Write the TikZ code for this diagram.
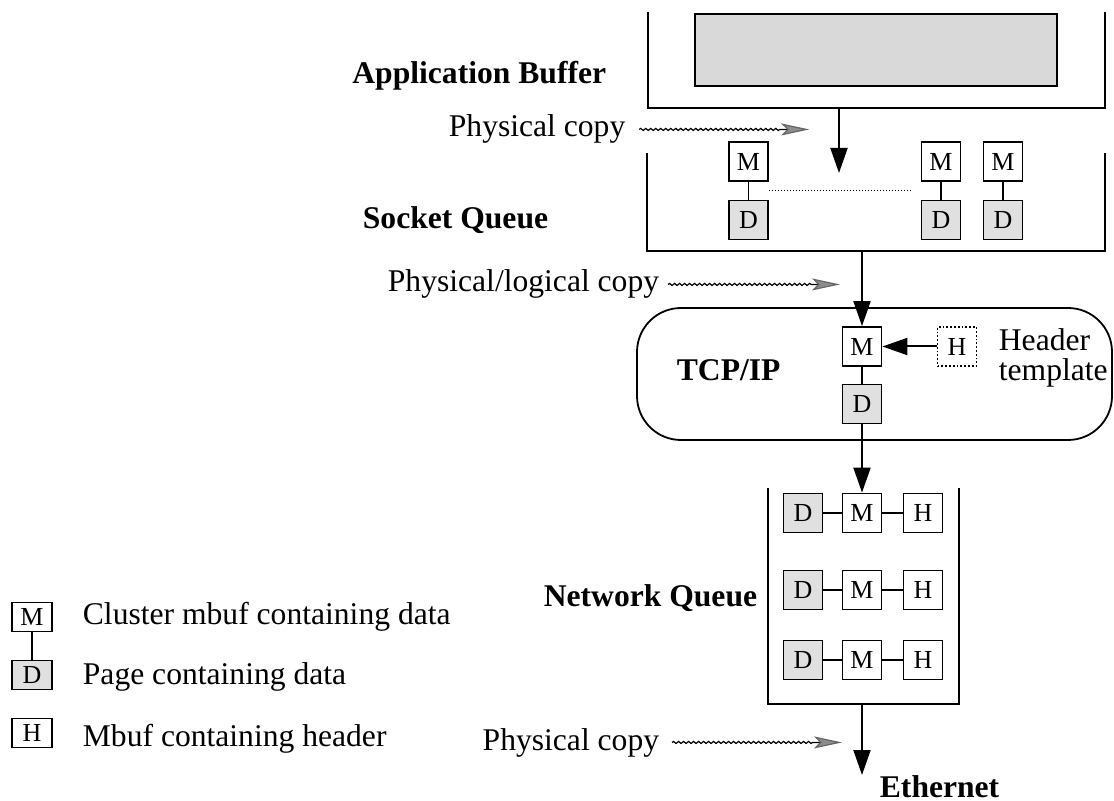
\documentclass[tikz,border=0pt]{standalone}
\usepackage{fontspec}
\setmainfont{Liberation Serif}
\usetikzlibrary{arrows.meta,decorations.pathmorphing,calc}

\begin{document}
\begin{tikzpicture}[x=0.5pt,y=-0.5pt,line width=0.9pt,
  lbl/.style={inner sep=0pt,font=\fontsize{15.8}{18}\selectfont},
  ttl/.style={inner sep=0pt,font=\fontsize{15.8}{18}\selectfont\bfseries},
  buf/.style={draw,fill=white,minimum width=19.5pt,minimum height=19.5pt,inner sep=0pt,font=\fontsize{13}{13}\selectfont},
  pg/.style={buf,fill=black!12},
  tmpl/.style={buf,densely dotted},
  legendbox/.style={buf,minimum width=20pt,minimum height=14.5pt},
  flow/.style={line width=1pt,-{Triangle[length=12.5pt,width=8.5pt]}},
  copyline/.style={line width=0.6pt,decorate,decoration={snake,amplitude=0.5pt,segment length=2.5pt,post length=14pt},
    -{Stealth[length=14pt,width=6pt,inset=3pt,fill=black!45,color=black!60]}}]
\useasboundingbox (0,0) rectangle (1114,801);
% application buffer
\draw (648,12) |- (1105,108) -- (1105,12);
\node[draw,fill=black!15,minimum width=181pt,minimum height=36pt,inner sep=0pt] (appdata) at (876,50) {};
\node[ttl,anchor=base east] (applbl) at (607,84) {Application Buffer};
\coordinate (appout) at (839,108);
\coordinate (sockin) at (839,173);
\draw[flow] (appout) -- (sockin);
\node[lbl,anchor=base west] (pc1) at (448,137) {Physical copy};
\draw[copyline] ([xshift=6.5pt]pc1.east) -- ++(170,0);
% socket queue
\draw (647,153) |- (1105,251) -- (1105,153);
\foreach \n/\x in {1/748.5,2/941,3/1003}{
  \node[buf] (sm\n) at (\x,161.5) {M};
  \node[pg] (sd\n) at (\x,220) {D};
  \draw (sm\n) -- (sd\n);
}
\draw[densely dotted,line width=0.5pt,shorten >=4.5pt] ($(sm1.south east)!.5!(sd1.north east)$) -- ($(sm2.south west)!.5!(sd2.north west)$);
\node[ttl,anchor=base west] (socklbl) at (362,229) {Socket Queue};
\coordinate (sockout) at (862,251);
\node[lbl,anchor=base east] (pc2) at (660,292) {Physical/logical copy};
\draw[copyline] ([xshift=4pt]pc2.east) -- ++(172,0);
% tcp/ip
\draw[rounded corners=22pt] (637,308) rectangle (1112,440);
\node[ttl,anchor=base west] (tcplbl) at (676,381) {TCP/IP};
\node[buf] (tm) at (862,346.5) {M};
\node[pg] (td) at (862,404) {D};
\draw (tm) -- (td);
\node[tmpl] (th) at (957,346.5) {H};
\draw[flow] (th) -- (tm);
\draw[flow] (sockout) -- (tm);
\node[lbl,anchor=base west] (hdrlbl) at (998,351) {Header};
\node[lbl,anchor=base west] (tmpllbl) at (998,381) {template};
% network queue
\draw (768,488) |- (959,704) -- (959,488);
\foreach \r/\y in {1/513,2/590,3/660}{
  \node[pg] (nd\r) at (803,\y) {D};
  \node[buf] (nm\r) at (862,\y) {M};
  \node[buf] (nh\r) at (923,\y) {H};
  \draw (nd\r) -- (nm\r) -- (nh\r);
}
\draw[flow] (td) -- (nm1);
\node[ttl,anchor=base east] (netlbl) at (758,607) {Network Queue};
\coordinate (netout) at (862,704);
\coordinate (ethin) at (862,775);
\draw[flow] (netout) -- (ethin);
\node[lbl,anchor=base east] (pc3) at (660,750) {Physical copy};
\draw[copyline] ([xshift=6pt]pc3.east) -- ++(170,0);
\node[ttl,anchor=base west] (ethlbl) at (879,797) {Ethernet};
% legend
\node[legendbox] (km) at (32,617) {M};
\node[legendbox,fill=black!12] (kd) at (32,675) {D};
\node[legendbox] (kh) at (32,733) {H};
\draw (km) -- (kd);
\node[lbl,anchor=base west] (kmlbl) at (82,625) {Cluster mbuf containing data};
\node[lbl,anchor=base west] (kdlbl) at (82,685) {Page containing data};
\node[lbl,anchor=base west] (khlbl) at (82,747) {Mbuf containing header};
\end{tikzpicture}
\end{document}
